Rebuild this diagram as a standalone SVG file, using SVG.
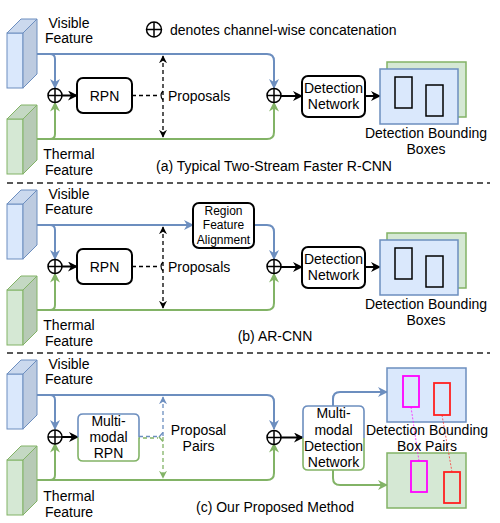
<svg xmlns="http://www.w3.org/2000/svg" width="500" height="523" viewBox="0 0 500 523">
<style>
text{font-family:"Liberation Sans",Arial,sans-serif;font-size:14px;fill:#000;text-anchor:middle}
.sm{font-size:12px}
.bl{fill:none;stroke:#6c8ebf;stroke-width:2}
.gr{fill:none;stroke:#82b366;stroke-width:2}
.bk{fill:none;stroke:#000;stroke-width:2}
.dk{fill:none;stroke:#000;stroke-width:1.3;stroke-dasharray:4 3}
.dbl{fill:none;stroke:#6c8ebf;stroke-width:1.3;stroke-dasharray:4 3}
.dgr{fill:none;stroke:#82b366;stroke-width:1.3;stroke-dasharray:4 3}
.box{fill:#fff;stroke:#000;stroke-width:2}
.sep{stroke:#222;stroke-width:1.3;stroke-dasharray:6 4}
.cc{fill:#fff;stroke:#000;stroke-width:1.5}
.cx{stroke:#000;stroke-width:1.5}
.bimg{fill:#dae8fc;stroke:#6c8ebf;stroke-width:1.5}
.gimg{fill:#d5e8d4;stroke:#82b366;stroke-width:1.5}
.ib{fill:none;stroke:#000;stroke-width:1.5}
.mg{fill:none;stroke:#ff00ff;stroke-width:1.8}
.rd{fill:none;stroke:#ff2020;stroke-width:1.8}
</style>
<defs>
<marker id="ab" viewBox="0 0 10 10" refX="9" refY="5" markerWidth="10" markerHeight="10" markerUnits="userSpaceOnUse" orient="auto"><path d="M0,0 L10,5 L0,10 L3,5 Z" fill="#6c8ebf"/></marker>
<marker id="ag" viewBox="0 0 10 10" refX="9" refY="5" markerWidth="10" markerHeight="10" markerUnits="userSpaceOnUse" orient="auto"><path d="M0,0 L10,5 L0,10 L3,5 Z" fill="#82b366"/></marker>
<marker id="ak" viewBox="0 0 10 10" refX="9" refY="5" markerWidth="10" markerHeight="10" markerUnits="userSpaceOnUse" orient="auto"><path d="M0,0 L10,5 L0,10 L3,5 Z" fill="#000"/></marker>
<marker id="ad" viewBox="0 0 10 10" refX="9" refY="5" markerWidth="8" markerHeight="8" markerUnits="userSpaceOnUse" orient="auto-start-reverse"><path d="M0,0 L10,5 L0,10 L3,5 Z" fill="#000"/></marker>
<marker id="adb" viewBox="0 0 10 10" refX="9" refY="5" markerWidth="8" markerHeight="8" markerUnits="userSpaceOnUse" orient="auto-start-reverse"><path d="M0,0 L10,5 L0,10 L3,5 Z" fill="#6c8ebf"/></marker>
<marker id="adg" viewBox="0 0 10 10" refX="9" refY="5" markerWidth="8" markerHeight="8" markerUnits="userSpaceOnUse" orient="auto-start-reverse"><path d="M0,0 L10,5 L0,10 L3,5 Z" fill="#82b366"/></marker>
<g id="cubeB">
<rect x="0" y="14" width="16" height="55" fill="#dae8fc" stroke="#6c8ebf" stroke-width="1"/>
<path d="M0,14 L14,0 L30,0 L16,14 Z" fill="#cbd9ee" stroke="#6c8ebf" stroke-width="1"/>
<path d="M16,14 L30,0 L30,55 L16,69 Z" fill="#bdcbe0" stroke="#6c8ebf" stroke-width="1"/>
</g>
<g id="cubeG">
<rect x="0" y="14" width="16" height="55" fill="#d5e8d4" stroke="#82b366" stroke-width="1"/>
<path d="M0,14 L14,0 L30,0 L16,14 Z" fill="#c4d8c3" stroke="#82b366" stroke-width="1"/>
<path d="M16,14 L30,0 L30,55 L16,69 Z" fill="#b7cab6" stroke="#82b366" stroke-width="1"/>
</g>
<g id="plus">
<circle cx="0" cy="0" r="7" class="cc"/>
<line x1="-7" y1="0" x2="7" y2="0" class="cx"/>
<line x1="0" y1="-7" x2="0" y2="7" class="cx"/>
</g>
</defs>
<rect width="500" height="523" fill="#fff"/>

<g id="legend">
<circle cx="154" cy="29.5" r="7.5" class="cc"/>
<line x1="146.5" y1="29.5" x2="161.5" y2="29.5" class="cx"/>
<line x1="154" y1="22" x2="154" y2="37" class="cx"/>
<text x="170" y="35" style="text-anchor:start">denotes channel-wise concatenation</text>
</g>

<g id="separators">
<line x1="7" y1="183" x2="490" y2="183" class="sep"/>
<line x1="7" y1="353" x2="490" y2="353" class="sep"/>
</g>

<!-- Section (a) -->
<g id="section-a">
<g id="connectors-a">
<path d="M37,54 H50 Q55,54 55,59 V88" class="bl" marker-end="url(#ab)"/>
<path d="M37,139 H50 Q55,139 55,134 V102.5" class="gr" marker-end="url(#ag)"/>
<path d="M37,54 H267 Q274,54 274,61 V88" class="bl" marker-end="url(#ab)"/>
<path d="M37,139 H267 Q274,139 274,132 V102.5" class="gr" marker-end="url(#ag)"/>
<path d="M62,95.5 H77" class="bk" marker-end="url(#ak)"/>
<path d="M132,95.5 H158" class="dk"/>
<path d="M163,91 Q159,95.5 163,100" fill="none" stroke="#000" stroke-width="1.3"/>
<path d="M163,56 V137" class="dk" marker-start="url(#ad)" marker-end="url(#ad)"/>
<path d="M281,96 H302" class="bk" marker-end="url(#ak)"/>
<path d="M365,96 H380" class="bk" marker-end="url(#ak)"/>
</g>
<g id="visible-a"><use href="#cubeB" x="7" y="19"/><text x="69" y="28">Visible</text><text x="69" y="43">Feature</text></g>
<g id="thermal-a"><use href="#cubeG" x="7" y="105"/><text x="69" y="159">Thermal</text><text x="69" y="175">Feature</text></g>
<g id="concat1-a"><use href="#plus" x="55" y="95.5"/></g>
<g id="rpn-a"><rect x="77" y="78" width="55" height="35" rx="6" class="box"/><text x="104.5" y="100.5">RPN</text></g>
<g id="proposals-a"><text x="168" y="101" style="text-anchor:start">Proposals</text></g>
<g id="concat2-a"><use href="#plus" x="274" y="95.5"/></g>
<g id="detnet-a"><rect x="302" y="76" width="63" height="41" rx="6" class="box"/><text x="333.5" y="93">Detection</text><text x="333.5" y="109">Network</text></g>
<g id="boxes-a">
<rect x="387" y="62" width="79" height="55" class="gimg"/>
<rect x="380" y="69" width="78" height="55" class="bimg"/>
<rect x="395" y="77" width="17" height="31" class="ib"/>
<rect x="426" y="85" width="17" height="31" class="ib"/>
<text x="426" y="138">Detection Bounding</text><text x="426" y="154">Boxes</text>
</g>
<text x="274" y="171">(a) Typical Two-Stream Faster R-CNN</text>
</g>

<!-- Section (b) -->
<g id="section-b" transform="translate(0,171)">
<g id="connectors-b">
<path d="M37,54 H50 Q55,54 55,59 V88" class="bl" marker-end="url(#ab)"/>
<path d="M37,139 H50 Q55,139 55,134 V102.5" class="gr" marker-end="url(#ag)"/>
<path d="M37,54 H193" class="bl" marker-end="url(#ab)"/>
<path d="M254,54 H267 Q274,54 274,61 V88" class="bl" marker-end="url(#ab)"/>
<path d="M37,139 H267 Q274,139 274,132 V102.5" class="gr" marker-end="url(#ag)"/>
<path d="M62,95.5 H77" class="bk" marker-end="url(#ak)"/>
<path d="M132,95.5 H158" class="dk"/>
<path d="M163,91 Q159,95.5 163,100" fill="none" stroke="#000" stroke-width="1.3"/>
<path d="M163,56 V137" class="dk" marker-start="url(#ad)" marker-end="url(#ad)"/>
<path d="M281,96 H302" class="bk" marker-end="url(#ak)"/>
<path d="M365,96 H380" class="bk" marker-end="url(#ak)"/>
</g>
<g id="visible-b"><use href="#cubeB" x="7" y="19"/><text x="69" y="28">Visible</text><text x="69" y="43">Feature</text></g>
<g id="thermal-b"><use href="#cubeG" x="7" y="105"/><text x="69" y="159">Thermal</text><text x="69" y="175">Feature</text></g>
<g id="concat1-b"><use href="#plus" x="55" y="95.5"/></g>
<g id="rpn-b"><rect x="77" y="78" width="55" height="35" rx="6" class="box"/><text x="104.5" y="100.5">RPN</text></g>
<g id="proposals-b"><text x="168" y="101" style="text-anchor:start">Proposals</text></g>
<g id="rfa-b"><rect x="193" y="32" width="61" height="45" rx="6" class="box"/><text class="sm" x="223.5" y="43.5">Region</text><text class="sm" x="223.5" y="58">Feature</text><text class="sm" x="223.5" y="72.5">Alignment</text></g>
<g id="concat2-b"><use href="#plus" x="274" y="95.5"/></g>
<g id="detnet-b"><rect x="302" y="76" width="63" height="41" rx="6" class="box"/><text x="333.5" y="93">Detection</text><text x="333.5" y="109">Network</text></g>
<g id="boxes-b">
<rect x="387" y="62" width="79" height="55" class="gimg"/>
<rect x="380" y="69" width="78" height="55" class="bimg"/>
<rect x="395" y="77" width="17" height="31" class="ib"/>
<rect x="426" y="85" width="17" height="31" class="ib"/>
<text x="426" y="138">Detection Bounding</text><text x="426" y="154">Boxes</text>
</g>
<text x="275" y="170">(b) AR-CNN</text>
</g>

<!-- Section (c) -->
<g id="section-c" transform="translate(0,341)">
<g id="connectors-c">
<path d="M37,54 H50 Q55,54 55,59 V88" class="bl" marker-end="url(#ab)"/>
<path d="M37,139 H50 Q55,139 55,134 V102.5" class="gr" marker-end="url(#ag)"/>
<path d="M37,54 H267 Q274,54 274,61 V88" class="bl" marker-end="url(#ab)"/>
<path d="M37,139 H267 Q274,139 274,132 V102.5" class="gr" marker-end="url(#ag)"/>
<path d="M62,96 H78" class="bk" marker-end="url(#ak)"/>
<path d="M139,95.5 H158" class="dbl"/>
<path d="M139,97 H158" class="dgr" stroke-dashoffset="3"/>
<path d="M163,91.5 Q159,96 159,96" fill="none" stroke="#6c8ebf" stroke-width="1.3"/>
<path d="M159,96 Q159,96 163,100.5" fill="none" stroke="#82b366" stroke-width="1.3"/>
<path d="M163,56 V96" class="dbl" marker-start="url(#adb)"/>
<path d="M163,96 V137" class="dgr" marker-end="url(#adg)"/>
<path d="M281,96.5 H303" class="bk" marker-end="url(#ak)"/>
<path d="M333,65 V58 Q333,51 340,51 H387" class="bl" marker-end="url(#ab)"/>
<path d="M333,129 V137 Q333,144 340,144 H387" class="gr" marker-end="url(#ag)"/>
</g>
<g id="visible-c"><use href="#cubeB" x="7" y="19"/><text x="69" y="28">Visible</text><text x="69" y="43">Feature</text></g>
<g id="thermal-c"><use href="#cubeG" x="7" y="105"/><text x="69" y="160">Thermal</text><text x="69" y="176">Feature</text></g>
<g id="concat1-c"><use href="#plus" x="55" y="96"/></g>
<g id="mmrpn-c">
<rect x="78" y="73" width="61" height="47" rx="5" fill="#fff"/>
<path d="M78,96.5 V78 Q78,73 83,73 H134 Q139,73 139,78 V96.5" fill="none" stroke="#6c8ebf" stroke-width="1.6"/>
<path d="M78,96.5 V115 Q78,120 83,120 H134 Q139,120 139,115 V96.5" fill="none" stroke="#82b366" stroke-width="1.6"/>
<text x="108.5" y="85">Multi-</text><text x="108.5" y="101">modal</text><text x="108.5" y="117">RPN</text>
</g>
<g id="pairs-c"><text x="198.5" y="94">Proposal</text><text x="198.5" y="110">Pairs</text></g>
<g id="concat2-c"><use href="#plus" x="274" y="96.5"/></g>
<g id="mmdet-c">
<rect x="303" y="65" width="61" height="64" rx="5" fill="#fff"/>
<path d="M303,97 V70 Q303,65 308,65 H359 Q364,65 364,70 V97" fill="none" stroke="#6c8ebf" stroke-width="1.6"/>
<path d="M303,97 V124 Q303,129 308,129 H359 Q364,129 364,124 V97" fill="none" stroke="#82b366" stroke-width="1.6"/>
<text x="333.5" y="77">Multi-</text><text x="333.5" y="93.5">modal</text><text x="333.5" y="110">Detection</text><text x="333.5" y="126">Network</text>
</g>
<g id="pairs-img-c">
<rect x="387" y="27" width="79" height="54" class="bimg"/>
<rect x="387" y="112" width="79" height="55" class="gimg"/>
<rect x="403" y="35" width="16" height="31" class="mg"/>
<rect x="434" y="42" width="16" height="32" class="rd"/>
<rect x="411" y="120" width="16" height="31" class="mg"/>
<rect x="444" y="131" width="16" height="31" class="rd"/>
<path d="M411,66 L419,120" fill="none" stroke="#ff00ff" stroke-width="0.7" stroke-dasharray="2 1.5"/>
<path d="M442,74 L452,131" fill="none" stroke="#ff2020" stroke-width="0.7" stroke-dasharray="2 1.5"/>
<text x="427" y="94">Detection Bounding</text><text x="427" y="110">Box Pairs</text>
</g>
<text x="275" y="171">(c) Our Proposed Method</text>
</g>
</svg>
